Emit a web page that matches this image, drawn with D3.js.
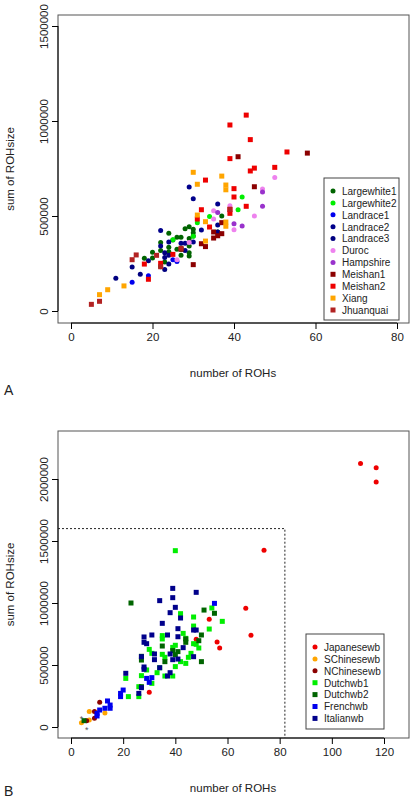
<!DOCTYPE html>
<html><head><meta charset="utf-8">
<script src="https://cdnjs.cloudflare.com/ajax/libs/d3/7.8.5/d3.min.js"></script>
<style>body{margin:0;background:#fff}text{font-family:"Liberation Sans",Arial,sans-serif}</style>
</head><body><div id="chart"></div>
<script>
// panel A breeds: [x, y in thousands]
var breedsA = ["Largewhite1","Largewhite2","Landrace1","Landrace2","Landrace3","Duroc","Hampshire","Meishan1","Meishan2","Xiang","Jhuanquai"];
var colorsA = ["#006400","#00ee00","#0000ee","#00008b","#000080","#ee82ee","#9932cc","#8b0000","#ee0000","#ffa500","#b22222"];
var shapesA = ["c","c","c","c","c","c","c","s","s","s","s"];
var largewhite1 = [[37,500],[28,433],[29,444],[30,430],[30,412],[24,409],[26,388],[27,388],[29,381],[25,374],[22,360],[24,335],[26,325],[27,325],[29,342],[29,307],[29,289],[27,293],[20,309],[22,318],[24,312],[18,277],[20,279],[22,233],[23,258],[36,416],[30,395]];
var largewhite2 = [[42,600],[41,533],[34,498],[31,465],[30,393],[25,375],[27,331]];
var landrace1 = [[26,261],[25,270],[19,186],[15,151]];
var landrace2 = [[29,652],[30,591],[36,563],[36,452],[32,426],[22,424],[22,342],[24,363],[27,356],[28,356],[30,363]];
var landrace3 = [[28,318],[23,307],[23,282],[24,293],[24,247],[23,219],[19,265],[15,232],[17,193],[11,172],[36,416]];
var duroc = [[50,702],[47,642],[39,554],[35,528],[35,484],[45,500],[40,428],[26,270],[29,361]];
var hampshire = [[47,626],[47,551],[40,459],[42,447],[36,519]];
var meishan1 = [[58,831],[41,812],[45,654],[37,465],[35,416],[36,396],[37,407],[35,384],[33,339],[32,354],[30,244],[27,325]];
var meishan2 = [[43,1031],[39,979],[44,902],[53,837],[39,802],[45,752],[44,737],[50,756],[40,644],[40,600],[33,689],[43,551],[39,535],[39,514],[32,533],[31,484],[34,442],[25,298],[18,247],[19,167],[22,251]];
var xiang = [[30,730],[37,710],[38,663],[38,638],[31,667],[31,505],[33,470],[38,468],[38,446],[33,368],[13,132],[9,112],[7,86]];
var jhuanquai = [[5,35],[7,51],[15,270],[16,295],[21,293],[22,233],[39,535],[27,330]];
var dataA = [largewhite1,largewhite2,landrace1,landrace2,landrace3,duroc,hampshire,meishan1,meishan2,xiang,jhuanquai];

// panel B wild boar groups
var breedsB = ["Japanesewb","SChinesewb","NChinesewb","Dutchwb1","Dutchwb2","Frenchwb","Italianwb"];
var colorsB = ["#ee0000","#ffa500","#8b0000","#00ee00","#006400","#0000ee","#00008b"];
var shapesB = ["c","c","c","s","s","s","s"];
var japanesewb = [[111,2126],[117,2091],[117,1976],[74,1425],[67,957],[69,739],[53,868],[56,685],[57,637],[30,280],[48,707]];
var schinesewb = [[7,126],[13,113],[4,35],[7,56]];
var nchinesewb = [[11,199],[9,126],[9,70],[6,51]];
var dutchwb1 = [[40,1422],[54,960],[58,852],[53,790],[47,887],[42,914],[47,814],[43,755],[44,715],[47,672],[49,637],[35,737],[35,710],[30,626],[31,594],[35,586],[39,642],[40,659],[46,594],[45,562],[44,513],[42,527],[40,487],[36,562],[34,478],[33,438],[29,460],[27,414],[31,352],[21,392],[26,325],[22,245],[26,245],[39,411],[36,411],[48,667]];
var dutchwb2 = [[23,1000],[51,943],[55,917],[50,742],[49,696],[44,710],[44,683],[35,653],[39,616],[40,583],[41,608],[36,527],[50,527],[27,570],[27,540],[5,51],[27,325]];
var frenchwb = [[55,997],[29,392],[31,398],[30,360],[20,298],[19,271],[19,245],[14,210],[15,177],[15,151],[13,151],[11,137],[10,110],[10,89]];
var italianwb = [[39,1118],[48,1086],[39,1043],[34,1019],[40,965],[38,922],[42,879],[35,836],[41,793],[47,782],[48,782],[37,742],[31,742],[28,726],[28,683],[29,672],[41,728],[43,640],[32,589],[32,543],[38,589],[39,543],[41,548],[47,567],[27,567],[28,484],[28,465],[34,478],[38,438],[37,411],[21,433],[26,271],[27,317]];
var dataB = [japanesewb,schinesewb,nchinesewb,dutchwb1,dutchwb2,frenchwb,italianwb];
var stars = [[4,83],[6,-5]];

var xTicksA = [0,20,40,60,80], yTicksA = [0,500000,1000000,1500000];
var xTicksB = [0,20,40,60,80,100,120], yTicksB = [0,500000,1000000,1500000,2000000];

var svg = d3.select("#chart").append("svg").attr("width",414).attr("height",800);

function panel(cfg){
  var g = svg.append("g");
  var x = d3.scaleLinear().domain(cfg.xd).range(cfg.xr);
  var y = d3.scaleLinear().domain(cfg.yd).range(cfg.yr);
  g.append("rect").attr("x",58).attr("y",cfg.box[0]).attr("width",351).attr("height",cfg.box[1]-cfg.box[0])
    .attr("fill","none").attr("stroke","#555").attr("stroke-width",1);
  g.append("g").attr("transform","translate(0,"+cfg.box[1]+")")
    .call(d3.axisBottom(x).tickValues(cfg.xt).tickSize(6).tickPadding(4))
    .call(function(a){a.select(".domain").attr("d","M"+x(cfg.xt[0])+",0H"+x(cfg.xt[cfg.xt.length-1]));
      a.selectAll("text").attr("font-size",11.5).attr("fill","#222").attr("font-family","Liberation Sans");});
  var ya = g.append("g").attr("transform","translate(58,0)")
    .call(d3.axisLeft(y).tickValues(cfg.yt).tickSize(6).tickFormat(d3.format("d")));
  ya.select(".domain").attr("d","M0,"+y(cfg.yt[0])+"V"+y(cfg.yt[cfg.yt.length-1]));
  ya.selectAll(".tick text").attr("font-size",11.5).attr("fill","#222").attr("font-family","Liberation Sans")
    .attr("transform","rotate(-90)").attr("text-anchor","middle").attr("x",0).attr("y",-10).attr("dy",0);
  g.append("text").attr("transform","translate(14,"+((cfg.box[0]+cfg.box[1])/2)+") rotate(-90)")
    .attr("text-anchor","middle").attr("font-size",11.5).attr("fill","#222").text("sum of ROHsize");
  g.append("text").attr("x",233).attr("y",cfg.xlab).attr("text-anchor","middle").attr("font-size",11.5).attr("fill","#222").text("number of ROHs");
  g.append("text").attr("x",4).attr("y",cfg.letterY).attr("font-size",14).attr("fill","#222").text(cfg.letter);
  if(cfg.extra) cfg.extra(g,x,y);
  cfg.data.forEach(function(s,i){
    var gg = g.append("g").attr("fill",cfg.colors[i]);
    if(cfg.shapes[i]=="c"){
      gg.selectAll("circle").data(s).enter().append("circle")
        .attr("cx",function(d){return x(d[0]);}).attr("cy",function(d){return y(d[1]*1000);}).attr("r",2.5);
    } else {
      gg.selectAll("rect").data(s).enter().append("rect")
        .attr("x",function(d){return x(d[0])-2.5;}).attr("y",function(d){return y(d[1]*1000)-2.5;})
        .attr("width",5).attr("height",5);
    }
  });
  var L = cfg.legend;
  var lg = g.append("g");
  lg.append("rect").attr("x",L[0]).attr("y",L[1]).attr("width",L[2]).attr("height",L[3])
    .attr("fill","#fff").attr("stroke","#444");
  cfg.names.forEach(function(n,i){
    var cy = L[1]+13+i*11.9;
    if(cfg.shapes[i]=="c") lg.append("circle").attr("cx",L[0]+9).attr("cy",cy).attr("r",2.5).attr("fill",cfg.colors[i]);
    else lg.append("rect").attr("x",L[0]+6.5).attr("y",cy-2.5).attr("width",5).attr("height",5).attr("fill",cfg.colors[i]);
    lg.append("text").attr("x",L[0]+18).attr("y",cy+3.8).attr("font-size",10).attr("fill","#222").text(n);
  });
}

panel({xd:[0,80],xr:[71,397],yd:[0,1500000],yr:[311,26],box:[15,323],xt:xTicksA,yt:yTicksA,
  xlab:377,letter:"A",letterY:395,data:dataA,colors:colorsA,shapes:shapesA,names:breedsA,legend:[324,178,75,142]});

panel({xd:[0,120],xr:[71,384],yd:[0,2000000],yr:[727,479],box:[431,738],xt:xTicksB,yt:yTicksB,
  xlab:792,letter:"B",letterY:796,data:dataB,colors:colorsB,shapes:shapesB,names:breedsB,legend:[306,634,78,95],
  extra:function(g,x,y){
    g.append("path").attr("d","M58,"+y(1600000)+"H"+x(82)+"V738")
      .attr("fill","none").attr("stroke","#222").attr("stroke-dasharray","2,2");
    g.selectAll(".star").data(stars).enter().append("text").attr("class","star")
      .attr("x",function(d){return x(d[0]);}).attr("y",function(d){return y(d[1]*1000)+5;})
      .attr("text-anchor","middle").attr("font-size",9).attr("fill","#555").text("*");
  }});
</script></body></html>
